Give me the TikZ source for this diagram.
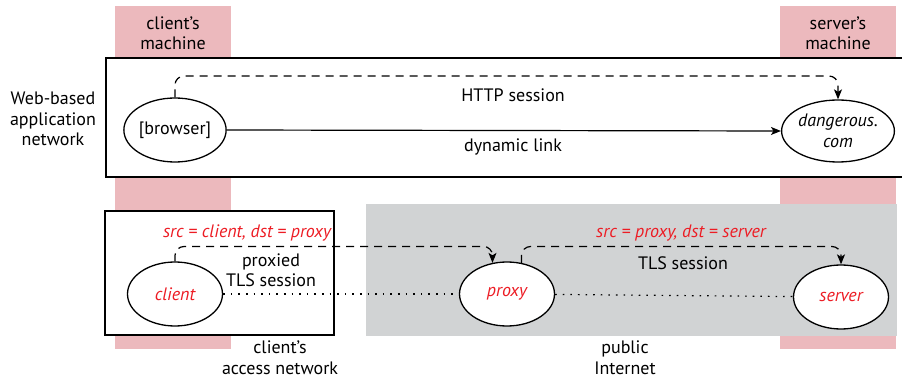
\documentclass[tikz,border=0pt]{standalone}
\usepackage{fontspec}
\setmainfont{PT Sans}
\usetikzlibrary{arrows.meta,shapes.geometric}

\definecolor{machinepink}{RGB}{236,185,189}
\definecolor{netgray}{RGB}{209,211,212}
\definecolor{addrred}{RGB}{237,28,36}
\newcommand{\diafont}{\fontsize{18}{20.5}\selectfont}

\tikzset{
  host/.style={ellipse,draw,line width=1.3pt,fill=white,inner sep=0pt,
    minimum width=95pt,minimum height=64pt,align=center},
  netbox/.style={draw,line width=1.5pt,fill=white},
  session/.style={dash pattern=on 8pt off 6pt,rounded corners=9pt},
  link/.style={dash pattern=on 1.6pt off 6pt},
  addr/.style={text=addrred,font=\diafont\itshape},
  lbl/.style={align=center,inner sep=0pt}
}

\begin{document}
\begin{tikzpicture}[x=1pt,y=-1pt,>={Stealth[length=10pt,width=8pt,inset=2.5pt]},
  font=\diafont,line width=1.2pt]
	\useasboundingbox (0,0) rectangle (902,379);

	% machine columns
	\fill [machinepink] (115,6) rectangle (231,349);
	\fill [machinepink] (780,6) rectangle (896,349);

	% public Internet
	\fill [netgray] (366,204) rectangle (897,336);

	% networks
	\draw [netbox] (106,58) rectangle (906,177);
	\draw [netbox] (105,211) rectangle (334,335);

	% column and network labels
	\node [lbl] (cmach) at (173,33) {client's\\machine};
	\node [lbl] (smach) at (838,33) {server's\\machine};
	\node [lbl] (webnet) at (53,119) {Web-based\\application\\network};
	\node [lbl] (accnet) at (280,357.5) {client's\\access network};
	\node [lbl] (pubnet) at (625,357.5) {public\\Internet};

	% upper row
	\node [host] (browser) at (175,130) {[browser]};
	\node [host,font=\diafont\itshape,minimum height=62pt] (dangerous) at (838,131) {dangerous.\\com};
	\coordinate (httpline) at (0,76);

	\draw [->] (browser.east) -- (dangerous.west);
	\draw [session,->] (browser.north) -- (browser.north |- httpline)
		-- (dangerous.north |- httpline) -- (dangerous.north);
	\node [lbl] (httplbl) at (513,95) {HTTP session};
	\node [lbl] (dynlbl) at (513,147) {dynamic link};

	% lower row
	\node [host,addr] (client) at (175,294) {client};
	\node [host,addr] (proxy) at (507,294) {proxy};
	\node [host,addr] (server) at (841,297) {server};
	\coordinate (tlsline) at (0,246.5);

	\draw [link] (client) -- (proxy);
	\draw [link] (proxy) -- (server);
	\draw [session,->] (client.north) -- (client.north |- tlsline)
		-- (proxy.115 |- tlsline) -- (proxy.115);
	\draw [session,->] (proxy.65) -- (proxy.65 |- tlsline)
		-- (server.north |- tlsline) -- (server.north);

	\node [lbl,addr] (srcclient) at (247,233) {src = client, dst = proxy};
	\node [lbl] (proxlbl) at (271,270) {proxied\\TLS session};
	\node [lbl,addr] (srcproxy) at (681,233) {src = proxy, dst = server};
	\node [lbl] (tlslbl) at (683,263) {TLS session};
\end{tikzpicture}
\end{document}
